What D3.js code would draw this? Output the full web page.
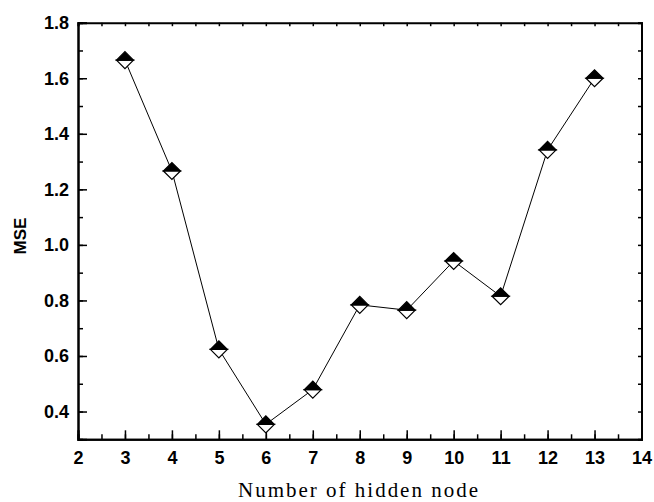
<!DOCTYPE html>
<html>
<head>
<meta charset="utf-8">
<script src="https://cdn.jsdelivr.net/npm/d3@7"></script>
<style>
  body { margin: 0; background: #fff; }
  svg { display: block; }
</style>
</head>
<body>
<svg id="chart" width="654" height="502"></svg>
<script>
const hiddenNodes = [3, 4, 5, 6, 7, 8, 9, 10, 11, 12, 13];
const mseValues = [1.665, 1.266, 0.624, 0.354, 0.479, 0.784, 0.765, 0.942, 0.815, 1.342, 1.600];
const xTicks = [2, 3, 4, 5, 6, 7, 8, 9, 10, 11, 12, 13, 14];
const yTicks = [0.4, 0.6, 0.8, 1.0, 1.2, 1.4, 1.6, 1.8];

const svg = d3.select("#chart"),
      width = +svg.attr("width"),
      height = +svg.attr("height"),
      margin = {top: 22.7, right: 12.5, bottom: 62.7, left: 78};

const x = d3.scaleLinear().domain([2, 14]).range([margin.left, width - margin.right]);
const y = d3.scaleLinear().domain([0.3, 1.8]).range([height - margin.bottom, margin.top]);

const xMinor = d3.range(2, 14.01, 0.5);
const yMinor = d3.range(0.3, 1.801, 0.1).map(v => +v.toFixed(2));

// minor / short ticks (drawn first)
svg.append("g")
  .attr("transform", `translate(0,${y.range()[0]})`)
  .call(d3.axisBottom(x).tickValues(xMinor).tickSize(-5).tickFormat(""));
svg.append("g")
  .attr("transform", `translate(${x.range()[0]},0)`)
  .call(d3.axisLeft(y).tickValues(yMinor).tickSize(-5).tickFormat(""));
svg.append("g")
  .attr("transform", `translate(0,${y.range()[1]})`)
  .call(d3.axisTop(x).tickValues(xMinor).tickSize(-3.5).tickFormat(""));
svg.append("g")
  .attr("transform", `translate(${x.range()[1]},0)`)
  .call(d3.axisRight(y).tickValues(yMinor).tickSize(-3.5).tickFormat(""));

// major ticks with labels
const xAxis = svg.append("g")
  .attr("transform", `translate(0,${y.range()[0]})`)
  .call(d3.axisBottom(x).tickValues(xTicks).tickSize(-9).tickPadding(12).tickFormat(d3.format("d")));
const yAxis = svg.append("g")
  .attr("transform", `translate(${x.range()[0]},0)`)
  .call(d3.axisLeft(y).tickValues(yTicks).tickSize(-9).tickPadding(9).tickFormat(d3.format(".1f")));

svg.selectAll(".domain").attr("stroke", "#000").attr("stroke-width", 2);
svg.selectAll(".tick line").attr("stroke", "#000").attr("stroke-width", 1.5);
[xAxis, yAxis].forEach(g => g
  .attr("font-family", "'Liberation Sans', Arial, sans-serif")
  .attr("font-size", 18)
  .attr("font-weight", "bold")
  .selectAll("text").attr("fill", "#000"));

// line
svg.append("path")
  .datum(hiddenNodes.map((n, i) => [n, mseValues[i]]))
  .attr("fill", "none")
  .attr("stroke", "#000")
  .attr("stroke-width", 1)
  .attr("d", d3.line().x(d => x(d[0])).y(d => y(d[1])));

// half-filled diamond markers
const s = 8.5;
const marks = svg.selectAll(".mark")
  .data(hiddenNodes.map((n, i) => [n, mseValues[i]]))
  .enter().append("g")
  .attr("class", "mark")
  .attr("transform", d => `translate(${x(d[0])},${y(d[1])})`);
marks.append("path")
  .attr("d", `M${-s},0L0,${s}L${s},0Z`)
  .attr("fill", "#fff").attr("stroke", "#000").attr("stroke-width", 1.2);
marks.append("path")
  .attr("d", `M${-s},0L0,${-s}L${s},0Z`)
  .attr("fill", "#000").attr("stroke", "#000").attr("stroke-width", 1.2);

// axis titles
svg.append("text")
  .attr("x", 238)
  .attr("y", 497)
  .attr("textLength", 240)
  .attr("lengthAdjust", "spacing")
  .attr("font-family", "'Liberation Serif', 'Times New Roman', serif")
  .attr("font-size", 21)
  .text("Number of hidden node");

svg.append("text")
  .attr("transform", "translate(26,236) rotate(-90)")
  .attr("text-anchor", "middle")
  .attr("font-family", "'Liberation Sans', Arial, sans-serif")
  .attr("font-size", 17)
  .attr("font-weight", "bold")
  .text("MSE");
</script>
</body>
</html>
